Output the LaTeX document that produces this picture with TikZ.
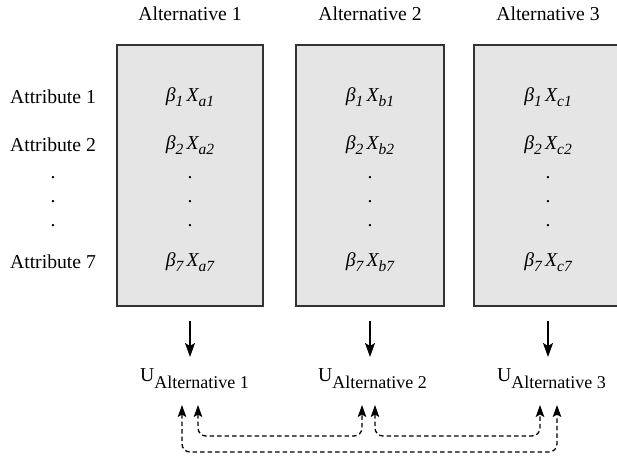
\documentclass[tikz,border=0pt]{standalone}
\usepackage{fontspec}
\setmainfont{Liberation Serif}
\usetikzlibrary{arrows.meta}
\newcommand{\lowsub}[1]{\raisebox{-4.5pt}{\fontsize{15.5}{16}\selectfont #1}}
\newcommand{\bterm}[3]{\textit{β\lowsub{#1}\,X\lowsub{#2#3}}}
\newcommand{\ualt}[1]{U\raisebox{-7pt}{\fontsize{18}{19}\selectfont Alternative #1}}
\begin{document}
\begin{tikzpicture}[x=1pt,y=-1pt,
  every node/.style={font=\fontsize{19.7}{23}\selectfont, inner sep=0pt},
  altbox/.style={draw=black!80, line width=1.6pt, fill=black!10, minimum width=146pt, minimum height=261pt},
  solidarrow/.style={-{Stealth[length=14pt,width=10pt,inset=3pt]}, line width=1.4pt},
  dasharrow/.style={{Stealth[length=12pt,width=8.5pt,inset=2.5pt]}-{Stealth[length=12pt,width=8.5pt,inset=2.5pt]}, line width=1.3pt, dash pattern=on 4.5pt off 3pt, rounded corners=8pt}]
\clip (0,0) rectangle (617,457);
\fill[white] (0,0) rectangle (617,457);
% titles
\node (t1) at (190,14) {Alternative 1};
\node (t2) at (370,14) {Alternative 2};
\node (t3) at (548,14) {Alternative 3};
% boxes
\node[altbox] (b1) at (190,175.5) {};
\node[altbox, minimum width=148pt] (b2) at (370,175.5) {};
\node[altbox, minimum width=148pt] (b3) at (548,175.5) {};
% attribute labels
\node (a1) at (53,97) {Attribute 1};
\node (a2) at (53,145) {Attribute 2};
\node (ad1) at (53,178) {.};
\node (ad2) at (53,202) {.};
\node (ad3) at (53,226) {.};
\node (a7) at (53,262) {Attribute 7};
% terms
\foreach \c/\x/\n in {a/190/1,b/370/2,c/548/3}{
  \node (p\n1) at (\x,97) {\bterm{1}{\c}{1}};
  \node (p\n2) at (\x,145) {\bterm{2}{\c}{2}};
  \node (d\n1) at (\x,178) {.};
  \node (d\n2) at (\x,202) {.};
  \node (d\n3) at (\x,226) {.};
  \node (p\n7) at (\x,262) {\bterm{7}{\c}{7}};
}
% utilities
\node[anchor=base west] (u1) at (140,381) {\ualt{1}};
\node[anchor=base west] (u2) at (318,381) {\ualt{2}};
\node[anchor=base west] (u3) at (497,381) {\ualt{3}};
\coordinate (s1) at (190,321); \coordinate (e1) at (190,357);
\coordinate (s2) at (370,321); \coordinate (e2) at (370,357);
\coordinate (s3) at (548,321); \coordinate (e3) at (548,357);
\draw[solidarrow] (s1) -- (e1);
\draw[solidarrow] (s2) -- (e2);
\draw[solidarrow] (s3) -- (e3);
% dashed connections
\coordinate (l1) at (182,405); \coordinate (r1) at (198,405);
\coordinate (l2) at (362,405); \coordinate (r2) at (375,405);
\coordinate (l3) at (540,405); \coordinate (r3) at (557,405);
\draw[dasharrow] (r1) -- (198,436) -- (362,436) -- (l2);
\draw[dasharrow] (r2) -- (375,436) -- (540,436) -- (l3);
\draw[dasharrow] (l1) -- (182,452) -- (557,452) -- (r3);
\end{tikzpicture}
\end{document}
